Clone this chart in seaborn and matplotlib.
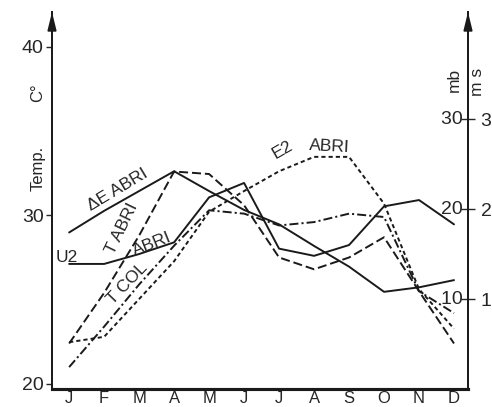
import numpy as np
import pandas as pd
import matplotlib
matplotlib.use("Agg")
import matplotlib.pyplot as plt
import seaborn as sns

# ---- data ----
months = ["J", "F", "M", "A", "M", "J", "J", "A", "S", "O", "N", "D"]
t_abri = [22.4, 25.4, 28.8, 32.6, 32.45, 30.6, 27.5, 26.8, 27.5, 28.7, 25.5, 22.4]   # deg C
t_col = [21.0, 23.4, 25.9, 28.2, 30.3, 30.1, 29.4, 29.6, 30.1, 29.9, 25.5, 24.2]     # deg C
e2_abri = [5.2, 5.8, 10.0, 14.2, 19.7, 22.0, 24.2, 25.8, 25.8, 20.6, 11.1, 6.7]      # mb
de_abri = [17.4, 19.8, 22.0, 24.2, 22.0, 19.9, 18.3, 15.9, 13.6, 10.8, 11.3, 12.1]   # mb
u2 = [1.39, 1.39, 1.50, 1.63, 2.13, 2.29, 1.56, 1.48, 1.60, 2.03, 2.10, 1.83]        # m/s

left_ticks = [20, 30, 40]
right_ticks_mb = [10, 20, 30]
right_ticks_ms = ["1", "2", "3"]

sns.set_theme(style="white")
plt.rcParams["font.family"] = ["Liberation Sans", "DejaVu Sans"]
plt.rcParams["lines.scale_dashes"] = False

W, H = 492, 407
fig = plt.figure(figsize=(W / 100, H / 100), dpi=100)
ax = fig.add_axes([52 / W, 1 - 389 / H, (468 - 52) / W, (389 - 12) / H])
ax2 = ax.twinx()

idx = np.arange(len(months))
df = pd.DataFrame({"m": idx, "t_abri": t_abri, "t_col": t_col,
                   "e2": e2_abri, "de": de_abri, "u2": np.array(u2) * 10})

lw = 1.4
sns.lineplot(data=df, x="m", y="t_abri", ax=ax, color="k", lw=lw, linestyle=(0, (6.5, 2.8)))
sns.lineplot(data=df, x="m", y="t_col", ax=ax, color="k", lw=lw, linestyle=(0, (6.5, 2.2, 1.5, 2.2)))
sns.lineplot(data=df, x="m", y="e2", ax=ax2, color="k", lw=lw, linestyle=(0, (3.0, 2.2)))
sns.lineplot(data=df, x="m", y="de", ax=ax2, color="k", lw=lw)
sns.lineplot(data=df, x="m", y="u2", ax=ax2, color="k", lw=lw)

ax.set_xlim(-0.49, 11.4)
ax.set_ylim(19.7, 42.06)
ax2.set_ylim(0, 41.9)

for a in (ax, ax2):
    a.set_xlabel("")
    a.set_ylabel("")
    a.spines["top"].set_visible(False)
    for s in ("left", "right"):
        a.spines[s].set_linewidth(1.3)
        a.spines[s].set_color("k")
    a.spines["bottom"].set_linewidth(2.2)
    a.spines["bottom"].set_color("k")
    a.grid(False)

ax.set_xticks(idx)
ax.set_xticklabels(months, fontsize=12)
ax.tick_params(axis="x", length=0, pad=1.5)
ax.set_yticks(left_ticks)
ax.set_yticklabels([str(v) for v in left_ticks], fontsize=14)
ax.tick_params(axis="y", direction="out", length=4, width=1, pad=2, left=True)

ax2.set_yticks(right_ticks_mb)
ax2.set_yticklabels(right_ticks_ms, fontsize=14)
ax2.tick_params(axis="y", direction="inout", length=10, width=1, pad=4, right=True)
for v in right_ticks_mb:
    ax2.text(1.0, v, str(v) + " ", transform=ax2.get_yaxis_transform(),
             ha="right", va="center", fontsize=14)

# arrows on the vertical axes
for xa in (0, 1):
    ax.annotate("", xy=(xa, 1.0), xytext=(xa, 0.955), xycoords="axes fraction",
                arrowprops=dict(arrowstyle="-|>,head_length=0.9,head_width=0.22",
                                color="k", lw=1.3, shrinkA=0, shrinkB=0))


def fp(x, y):
    return (x / W, 1 - y / H)


def lab(x, y, s, rot=0, size=13, **kw):
    fig.text(*fp(x, y), s, rotation=rot, ha="center", va="center",
             fontsize=size, **kw)


# axis titles
lab(38, 168, "Temp.", rot=90, size=12)
lab(38, 93, "C°", rot=90, size=12)
lab(454, 80, "mb", rot=90, size=12.5)
lab(478, 82, "m s", rot=90, size=12.5)

# line labels
lab(118, 190, "ΔE ABRI", rot=31, size=12.5)
lab(122, 228, "T ABRI", rot=64, size=12.5)
lab(152, 244, "ABRI", rot=22, size=12.5)
lab(67, 257, "U2", size=12.5)
lab(127, 284, "T COL", rot=46, size=12.5)
lab(283, 150, "E2", rot=30, size=12.5)
lab(329, 147, "ABRI", rot=-3, size=12.5)

fig.savefig("out.png", dpi=100)
